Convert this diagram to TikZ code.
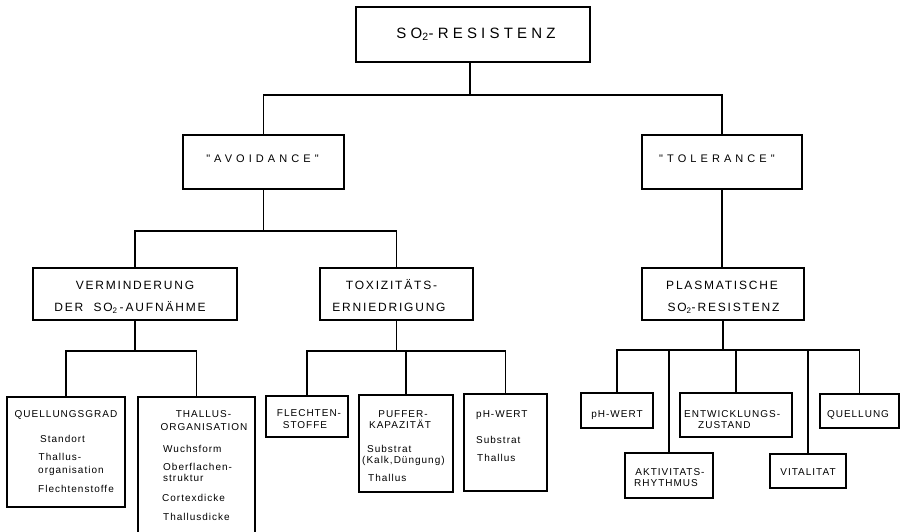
\documentclass[tikz,border=0pt]{standalone}
\usepackage{fontspec}
\newfontfamily\lbl{Liberation Sans}
\newcommand{\topf}{\lbl\fontsize{15}{18}\selectfont\addfontfeature{LetterSpace=28}}
\newcommand{\midf}{\lbl\fontsize{11}{13}\selectfont\addfontfeature{LetterSpace=37}}
\newcommand{\secf}{\lbl\fontsize{12}{14}\selectfont\addfontfeature{LetterSpace=15}}
\newcommand{\smf}{\lbl\fontsize{10}{11}\selectfont\addfontfeature{LetterSpace=10}}
\begin{document}
\begin{tikzpicture}[x=1pt,y=-1pt,
  box/.style={draw,line width=1.25pt,rectangle,inner sep=0pt,outer sep=0pt},
  conn/.style={line width=1.25pt},
  tc/.style={anchor=base,inner sep=0pt,font=\smf},
  tl/.style={anchor=base west,inner sep=0pt,font=\smf},
  sc/.style={anchor=base,inner sep=0pt,font=\secf},
  mc/.style={anchor=base,inner sep=0pt,font=\midf}]
\useasboundingbox (0,0) rectangle (904,531);
\clip (0,0) rectangle (904,531);

% boxes
\node[box,minimum width=234pt,minimum height=55pt] (top) at (473,34.5) {};
\node[box,minimum width=161pt,minimum height=54pt] (avoid) at (263.5,162) {};
\node[box,minimum width=160pt,minimum height=54pt] (tol) at (722,162) {};
\node[box,minimum width=204pt,minimum height=52pt] (verm) at (135,294) {};
\node[box,minimum width=153pt,minimum height=52pt] (toxi) at (396.5,294) {};
\node[box,minimum width=162pt,minimum height=52pt] (plasm) at (723,294) {};
\node[box,minimum width=118pt,minimum height=110pt] (qgrad) at (66,452) {};
\node[box,minimum width=117pt,minimum height=139pt] (thal) at (196.5,466.5) {};
\node[box,minimum width=82pt,minimum height=41pt] (flech) at (307,416.5) {};
\node[box,minimum width=94pt,minimum height=97pt] (puff) at (406,443.5) {};
\node[box,minimum width=83pt,minimum height=97pt] (phw1) at (505.5,442.5) {};
\node[box,minimum width=72pt,minimum height=35pt] (phw2) at (617,410.5) {};
\node[box,minimum width=112pt,minimum height=44pt] (entw) at (736,415) {};
\node[box,minimum width=79pt,minimum height=34pt] (quell) at (859.5,411) {};
\node[box,minimum width=88pt,minimum height=45pt] (akt) at (669,475.5) {};
\node[box,minimum width=76pt,minimum height=34pt] (vital) at (808,471) {};

% junctions
\coordinate (c1) at (470,95);
\coordinate (c2) at (264,231);
\coordinate (c3) at (133,351);
\coordinate (c4) at (396,351);
\coordinate (c5) at (722,350);

% connectors
\draw[conn] (top.south -| c1) -- (c1);
\draw[conn] (avoid.north) |- (c1) -| (tol.north);
\draw[conn] (avoid.south) -- (avoid.south |- c2);
\draw[conn] (verm.north) |- (c2) -| (toxi.north);
\draw[conn] (tol.south) -- (tol.south |- plasm.north);
\draw[conn] (verm.south) -- (verm.south |- c3);
\draw[conn] (qgrad.north) |- (c3) -| (thal.north);
\draw[conn] (toxi.south) -- (toxi.south |- c4);
\draw[conn] (flech.north) |- (c4) -| (phw1.north);
\draw[conn] (puff.north) -- (puff.north |- c4);
\draw[conn] (plasm.south) -- (plasm.south |- c5);
\draw[conn] (phw2.north) |- (c5) -| (quell.north);
\draw[conn] (akt.north) -- (akt.north |- c5);
\draw[conn] (entw.north) -- (entw.north |- c5);
\draw[conn] (vital.north) -- (vital.north |- c5);

% texts
\node[anchor=base,inner sep=0pt,font=\topf] (ttop) at (476,38) {SO\textsubscript{2}-RESISTENZ};
\node[mc] (tavoid) at (262.5,162) {"AVOIDANCE"};
\node[mc] (ttol) at (717,162) {"TOLERANCE"};

\node[sc] (tverm1) at (135,289) {VERMINDERUNG};
\node[sc] (tverm2) at (130,311.5) {DER\ \ SO\textsubscript{2}\,-\,AUFNÄHME};
\node[sc] (ttoxi1) at (391.5,289) {TOXIZITÄTS-};
\node[sc] (ttoxi2) at (389,311.5) {ERNIEDRIGUNG};
\node[sc] (tpl1) at (722,289) {PLASMATISCHE};
\node[sc] (tpl2) at (723.5,311.5) {SO\textsubscript{2}-\,RESISTENZ};

% Quellungsgrad box
\node[tc] (tq1) at (66,417) {QUELLUNGSGRAD};
\node[tl] (tq2) at (40,442) {Standort};
\node[tl] (tq3a) at (38.5,460) {Thallus-};
\node[tl] (tq3b) at (38,473.5) {organisation};
\node[tl] (tq4) at (38,492) {Flechtenstoffe};

% Thallus box
\node[tc] (tt1a) at (203.5,417) {THALLUS-};
\node[tc] (tt1b) at (204,430) {ORGANISATION};
\node[tl] (tt2) at (163,452) {Wuchsform};
\node[tl] (tt3a) at (163,470.5) {Oberflachen-};
\node[tl] (tt3b) at (163,481) {struktur};
\node[tl] (tt4) at (162,501) {Cortexdicke};
\node[tl] (tt5) at (163,520) {Thallusdicke};

% Flechtenstoffe
\node[tc] (tf1a) at (309,416.5) {FLECHTEN-};
\node[tc] (tf1b) at (305,428) {STOFFE};

% Puffer
\node[tc] (tp1a) at (403,417) {PUFFER-};
\node[tc] (tp1b) at (400,428) {KAPAZITÄT};
\node[tl] (tp2a) at (367,452) {Substrat};
\node[tl] (tp2b) at (362,463.5) {(Kalk,Düngung)};
\node[tl] (tp3) at (368,481.5) {Thallus};

% pH-Wert left
\node[tl] (th1) at (476,417) {pH-WERT};
\node[tl] (th2) at (476,443) {Substrat};
\node[tl] (th3) at (477,461) {Thallus};

% right side small boxes
\node[tc] (tr1) at (617,417) {pH-WERT};
\node[tl] (tr2) at (684,417) {ENTWICKLUNGS-};
\node[tl] (tr3) at (698,428.5) {ZUSTAND};
\node[tc] (tr4) at (858,417) {QUELLUNG};
\node[tc] (tr5) at (670,475) {AKTIVITATS-};
\node[tc] (tr6) at (666,486.5) {RHYTHMUS};
\node[tc] (tr7) at (808,475) {VITALITAT};
\end{tikzpicture}
\end{document}
